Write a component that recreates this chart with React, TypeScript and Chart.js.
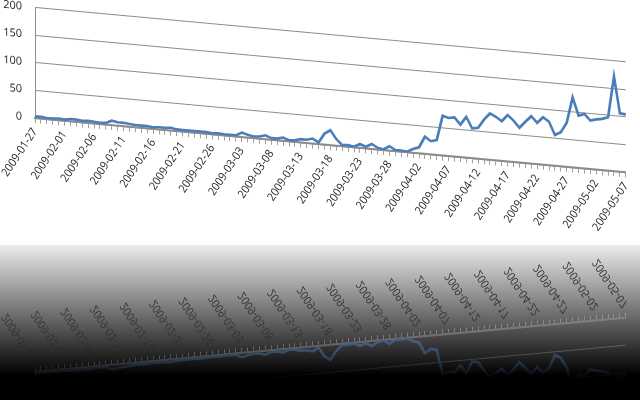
import React, { useEffect, useRef } from "react";
import { Chart, registerables } from "chart.js";

Chart.register(...registerables);

const dates: string[] = [
  "2009-01-27", "2009-01-28", "2009-01-29", "2009-01-30", "2009-01-31",
  "2009-02-01", "2009-02-02", "2009-02-03", "2009-02-04", "2009-02-05", "2009-02-06", "2009-02-07",
  "2009-02-08", "2009-02-09", "2009-02-10", "2009-02-11", "2009-02-12", "2009-02-13", "2009-02-14",
  "2009-02-15", "2009-02-16", "2009-02-17", "2009-02-18", "2009-02-19", "2009-02-20", "2009-02-21",
  "2009-02-22", "2009-02-23", "2009-02-24", "2009-02-25", "2009-02-26", "2009-02-27", "2009-02-28",
  "2009-03-01", "2009-03-02", "2009-03-03", "2009-03-04", "2009-03-05", "2009-03-06", "2009-03-07",
  "2009-03-08", "2009-03-09", "2009-03-10", "2009-03-11", "2009-03-12", "2009-03-13", "2009-03-14",
  "2009-03-15", "2009-03-16", "2009-03-17", "2009-03-18", "2009-03-19", "2009-03-20", "2009-03-21",
  "2009-03-22", "2009-03-23", "2009-03-24", "2009-03-25", "2009-03-26", "2009-03-27", "2009-03-28",
  "2009-03-29", "2009-03-30", "2009-03-31",
  "2009-04-01", "2009-04-02", "2009-04-03", "2009-04-04", "2009-04-05", "2009-04-06", "2009-04-07",
  "2009-04-08", "2009-04-09", "2009-04-10", "2009-04-11", "2009-04-12", "2009-04-13", "2009-04-14",
  "2009-04-15", "2009-04-16", "2009-04-17", "2009-04-18", "2009-04-19", "2009-04-20", "2009-04-21",
  "2009-04-22", "2009-04-23", "2009-04-24", "2009-04-25", "2009-04-26", "2009-04-27", "2009-04-28",
  "2009-04-29", "2009-04-30",
  "2009-05-01", "2009-05-02", "2009-05-03", "2009-05-04", "2009-05-05", "2009-05-06", "2009-05-07",
];

const visits: number[] = [
  3, 3, 2, 2, 3, 2, 4, 4, 3, 4,
  3, 2, 3, 8, 6, 6, 5, 4, 4, 4,
  3, 4, 4, 5, 3, 3, 3,
  3, 3, 3, 2, 3, 2, 2, 2, 8, 5,
  3, 4, 7, 3, 3, 6, 2, 3, 6, 6,
  9, 3,
  20, 27, 12, 2, 3, 1, 7, 3, 9, 3,
  1, 8, 2, 2, 1, 7, 11, 31, 24, 27,
  72, 69, 71, 59, 74, 54, 56, 72, 84, 79,
  72, 84, 75, 63, 75, 86, 75, 86, 79, 56,
  62, 80, 127, 95, 99, 88, 91, 93, 97, 172,
  106, 105,
];

const yTicks: number[] = [0, 50, 100, 150, 200];
const labelEvery = 5;

const SKEW = 0.092;
const SHIFT = 12;
const CANVAS_H = 245 + SHIFT;
const FONT = { family: "'Open Sans', 'Liberation Sans', sans-serif", size: 11 };

const skewPlugin = {
  id: "skew3d",
  beforeDraw(chart: any) {
    const ctx = chart.ctx;
    ctx.save();
    const x0 = chart.chartArea.left;
    ctx.transform(1, SKEW, 0, 1, 0, -SKEW * x0);
  },
  afterDraw(chart: any) {
    chart.ctx.restore();
  },
};

function makeConfig(): any {
  return {
    type: "line",
    data: {
      labels: dates,
      datasets: [
        {
          data: visits,
          borderColor: "#4a7ebb",
          borderWidth: 2.6,
          pointRadius: 0,
          tension: 0,
          fill: false,
        },
      ],
    },
    options: {
      animation: false,
      responsive: false,
      devicePixelRatio: 1,
      events: [],
      layout: { padding: { top: 0, right: 7, bottom: 0, left: 0 } },
      plugins: { legend: { display: false }, tooltip: { enabled: false } },
      scales: {
        x: {
          grid: {
            display: true,
            drawOnChartArea: false,
            drawTicks: true,
            tickLength: 5,
            color: "#a0a0a0",
          },
          border: { display: true, color: "#8c8c8c", width: 2 },
          ticks: {
            autoSkip: false,
            minRotation: 58,
            maxRotation: 58,
            padding: 3,
            color: "#222",
            font: FONT,
            callback: (_v: any, i: number) => (i % labelEvery === 0 ? dates[i] : ""),
          },
          afterFit: (s: any) => {
            s.height = 127;
          },
        },
        y: {
          min: 0,
          max: 200,
          grid: { color: "#8c8c8c", drawTicks: false },
          border: { color: "#8c8c8c" },
          afterBuildTicks: (s: any) => {
            s.ticks = yTicks.map((v) => ({ value: v }));
          },
          ticks: { padding: 13, color: "#222", font: FONT },
          afterFit: (s: any) => {
            s.width = 35;
          },
        },
      },
    },
    plugins: [skewPlugin],
  };
}

const reflMask =
  "linear-gradient(to bottom, rgba(0,0,0,0) 0px, rgba(0,0,0,0) 122px, rgba(0,0,0,0.45) 150px, rgba(0,0,0,0.85) 200px, rgba(0,0,0,0.95) 257px)";

export default function App() {
  const mainRef = useRef<HTMLCanvasElement>(null);
  const reflRef = useRef<HTMLCanvasElement>(null);

  useEffect(() => {
    const a = new Chart(mainRef.current as HTMLCanvasElement, makeConfig());
    const b = new Chart(reflRef.current as HTMLCanvasElement, makeConfig());
    return () => {
      a.destroy();
      b.destroy();
    };
  }, []);

  return (
    <div
      style={{
        position: "fixed",
        left: 0,
        top: 0,
        width: 640,
        height: 400,
        overflow: "hidden",
        background: "#fff",
      }}
    >
      <canvas
        ref={mainRef}
        width={640}
        height={CANVAS_H}
        style={{ position: "absolute", left: 0, top: -SHIFT }}
      />
      <div
        style={{
          position: "absolute",
          left: 0,
          top: 245,
          width: 640,
          height: 155,
          background: "linear-gradient(to bottom, #ececec 0px, #000000 130px, #000000 155px)",
        }}
      />
      <canvas
        ref={reflRef}
        width={640}
        height={CANVAS_H}
        style={{
          position: "absolute",
          left: 0,
          top: 245,
          transform: "scaleY(-1)",
          WebkitMaskImage: reflMask,
          maskImage: reflMask,
        } as any}
      />
    </div>
  );
}
